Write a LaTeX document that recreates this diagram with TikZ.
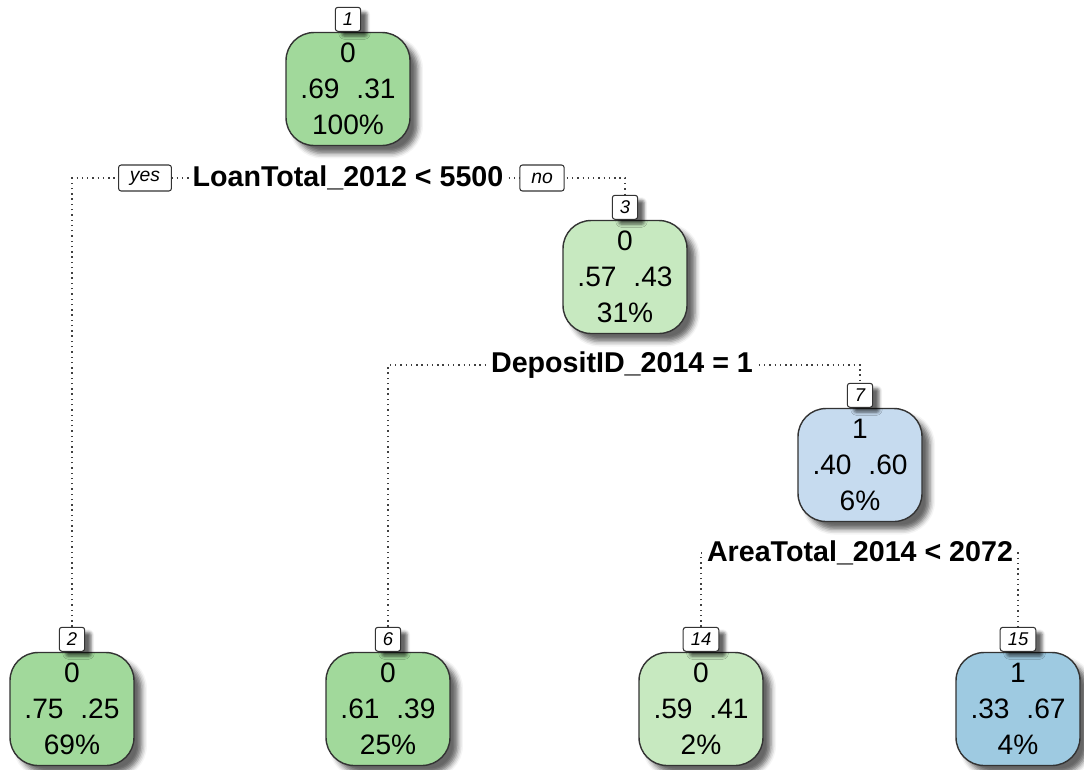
\documentclass[tikz,border=0pt]{standalone}
\usepackage{fontspec}
\setmainfont{Liberation Sans}
\usetikzlibrary{positioning, backgrounds, shadows.blur}
\definecolor{greendark}{HTML}{A1D99B}
\definecolor{greenlight}{HTML}{C7E9C0}
\definecolor{bluelight}{HTML}{C6DBEF}
\definecolor{bluemid}{HTML}{9ECAE1}
\tikzset{
    treebox/.style={draw=black!80, line width=0.8pt, rounded corners=0.56cm, minimum width=2.48cm, minimum height=2.26cm, align=center, font=\fontsize{16}{20.4}\selectfont,
        blur shadow={shadow xshift=0.16cm, shadow yshift=-0.16cm, shadow blur radius=0.1cm, shadow opacity=60}},
    numlabel/.style={draw=black!80, line width=0.6pt, fill=white, rounded corners=1.5pt, minimum width=0.5cm, minimum height=0.48cm, inner xsep=4.3pt, inner ysep=1pt, font=\fontsize{10.5}{11}\selectfont\itshape,
        blur shadow={shadow xshift=0.13cm, shadow yshift=-0.1cm, shadow blur radius=0.06cm, shadow opacity=60}},
    yesno/.style={draw=black!80, line width=0.6pt, fill=white, rounded corners=1.5pt, minimum height=0.52cm, inner xsep=6.5pt, inner ysep=1pt, font=\fontsize{11}{12}\selectfont\itshape},
    splitlabel/.style={fill=white, inner sep=1.5pt, font=\fontsize{16.3}{18}\selectfont\bfseries},
    edge/.style={black!75, line width=0.8pt, dash pattern=on 0.8pt off 2.2pt},
}

\begin{document}
\begin{tikzpicture}[x=0.02cm, y=-0.02cm]
    \useasboundingbox (0,0) rectangle (1084,769);

    % inner nodes
    \node[treebox, fill=greendark] (n1) at (348,89) {0\\.69\hspace{0.6em}.31\\100\%};
    \node[numlabel, above=0pt of n1] (l1) {1};
    \node[treebox, fill=greenlight] (n3) at (625,277) {0\\.57\hspace{0.6em}.43\\31\%};
    \node[numlabel, above=0pt of n3] (l3) {3};
    \node[treebox, fill=bluelight] (n7) at (860,465) {1\\.40\hspace{0.6em}.60\\6\%};
    \node[numlabel, above=0pt of n7] (l7) {7};

    % leaves
    \node[treebox, fill=greendark] (n2) at (72,709) {0\\.75\hspace{0.6em}.25\\69\%};
    \node[numlabel, above=0pt of n2] (l2) {2};
    \node[treebox, fill=greendark] (n6) at (388,709) {0\\.61\hspace{0.6em}.39\\25\%};
    \node[numlabel, above=0pt of n6] (l6) {6};
    \node[treebox, fill=greenlight] (n14) at (701,709) {0\\.59\hspace{0.6em}.41\\2\%};
    \node[numlabel, above=0pt of n14] (l14) {14};
    \node[treebox, fill=bluemid] (n15) at (1018,709) {1\\.33\hspace{0.6em}.67\\4\%};
    \node[numlabel, above=0pt of n15] (l15) {15};

    % split rules
    \node[splitlabel] (s1) at (348,178) {LoanTotal\_2012 < 5500};
    \node[yesno] (yes) at (145,178) {yes};
    \node[yesno] (no) at (542,178) {no};
    \node[splitlabel] (s2) at (622,365) {DepositID\_2014 = 1};
    \node[splitlabel] (s3) at (860,553) {AreaTotal\_2014 < 2072};

    % branches
    \begin{scope}[on background layer]
        \draw[edge] (l2.north) |- (s1.center) -| (l3.north);
        \draw[edge] (l6.north) |- (s2.center) -| (l7.north);
        \draw[edge] (l14.north) |- (s3.center) -| (l15.north);
    \end{scope}
\end{tikzpicture}
\end{document}
